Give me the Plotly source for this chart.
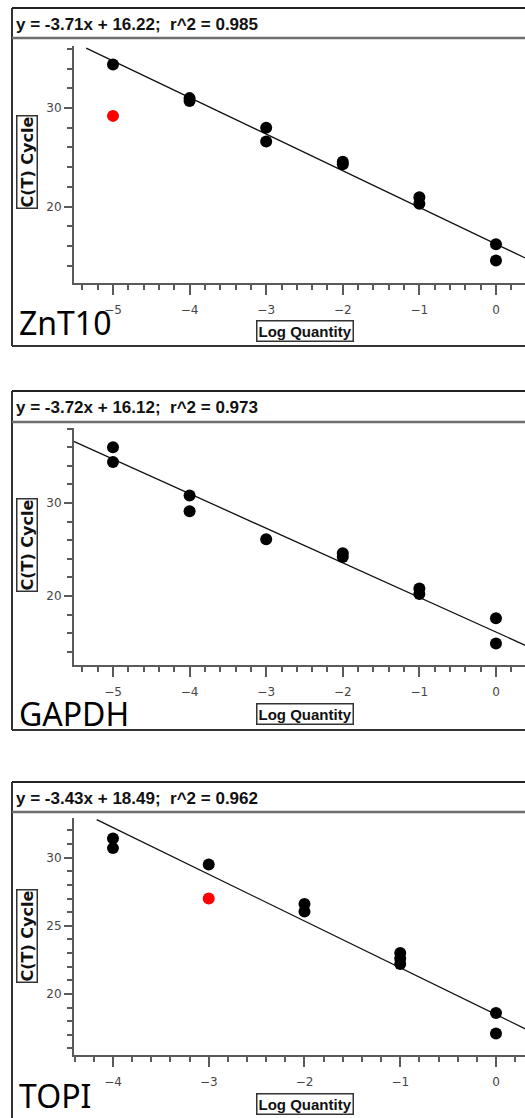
import plotly.graph_objects as go

W, H = 525, 1118

# ---------------- data ----------------
genes = ["ZnT10", "GAPDH", "TOPI"]
slopes = [-3.71, -3.72, -3.43]
intercepts = [16.22, 16.12, 18.49]
r2_values = [0.985, 0.973, 0.962]

znt10_x = [-5, -4, -4, -3, -3, -2, -2, -1, -1, 0, 0]
znt10_y = [34.4, 31.0, 30.7, 28.0, 26.6, 24.55, 24.3, 20.95, 20.3, 16.2, 14.55]
znt10_out_x = [-5]
znt10_out_y = [29.2]

gapdh_x = [-5, -5, -4, -4, -3, -2, -2, -1, -1, 0, 0]
gapdh_y = [36.0, 34.4, 30.8, 29.1, 26.1, 24.6, 24.2, 20.8, 20.2, 17.6, 14.9]
gapdh_out_x = []
gapdh_out_y = []

topi_x = [-4, -4, -3, -2, -2, -1, -1, -1, 0, 0]
topi_y = [31.4, 30.7, 29.5, 26.6, 26.05, 23.0, 22.6, 22.2, 18.6, 17.1]
topi_out_x = [-3]
topi_out_y = [27.0]

fit_x_start = [-5.35, -5.6, -4.17]
fit_x_end = [0.6, 0.6, 0.6]

x_ranges = [[-5.509, 0.379], [-5.509, 0.379], [-4.407, 0.303]]
y_ranges = [[12.32, 36.28], [12.58, 38.06], [15.52, 32.91]]
y_major = [10, 10, 5]
y_minor = [2, 2, 1]

# ---------------- layout geometry (pixels) ----------------
panel_top = [8, 391, 782]
panel_sep = [38, 422, 812]
panel_bottom = [346, 730, None]
plot_top = [46, 428, 818]
plot_bottom = [282.5, 665, 1055]
ylab_center = [162, 545, 936]
gene_y = [322, 713, 1095]
plot_left = 74


def px(x):
    return x / W


def py(y):
    return 1 - y / H


series = [
    (znt10_x, znt10_y, znt10_out_x, znt10_out_y),
    (gapdh_x, gapdh_y, gapdh_out_x, gapdh_out_y),
    (topi_x, topi_y, topi_out_x, topi_out_y),
]

fig = go.Figure()
layout = dict(
    width=W, height=H, margin=dict(l=0, r=0, t=0, b=0),
    paper_bgcolor="white", plot_bgcolor="white", showlegend=False,
    shapes=[], annotations=[],
)

AX = "#5a5a5a"
tickfont = dict(family="DejaVu Sans", size=12, color="#454545")

for i in range(3):
    xa = "x" if i == 0 else f"x{i+1}"
    ya = "y" if i == 0 else f"y{i+1}"
    xs, ys, oxs, oys = series[i]
    fx = [fit_x_start[i], fit_x_end[i]]
    fy = [slopes[i] * v + intercepts[i] for v in fx]
    fig.add_trace(go.Scatter(x=fx, y=fy, mode="lines", xaxis=xa, yaxis=ya,
                             line=dict(color="#111111", width=1.3), hoverinfo="skip"))
    fig.add_trace(go.Scatter(x=xs, y=ys, mode="markers", xaxis=xa, yaxis=ya,
                             marker=dict(color="black", size=12)))
    if oxs:
        fig.add_trace(go.Scatter(x=oxs, y=oys, mode="markers", xaxis=xa, yaxis=ya,
                                 marker=dict(color="#ff0000", size=12)))

    xkey = "xaxis" if i == 0 else f"xaxis{i+1}"
    ykey = "yaxis" if i == 0 else f"yaxis{i+1}"
    layout[xkey] = dict(
        domain=[px(plot_left), 1], range=x_ranges[i], anchor=ya,
        showline=True, linecolor=AX, linewidth=2, showgrid=False, zeroline=False,
        ticks="outside", ticklen=10, tickwidth=1.5, tickcolor=AX,
        tick0=0, dtick=1, tickfont=tickfont, ticklabelstandoff=5,
        minor=dict(ticks="outside", dtick=0.2, tick0=0, ticklen=5,
                   tickwidth=1.5, tickcolor=AX, showgrid=False),
    )
    layout[ykey] = dict(
        domain=[py(plot_bottom[i]), py(plot_top[i])], range=y_ranges[i], anchor=xa,
        showline=True, linecolor=AX, linewidth=2, showgrid=False, zeroline=False,
        ticks="outside", ticklen=8, tickwidth=1.5, tickcolor=AX,
        tick0=0, dtick=y_major[i], tickfont=tickfont,
        minor=dict(ticks="outside", dtick=y_minor[i], tick0=0, ticklen=5,
                   tickwidth=1.5, tickcolor=AX, showgrid=False),
    )

    # panel frame
    bottom = panel_bottom[i] if panel_bottom[i] is not None else H + 5
    layout["shapes"] += [
        dict(type="line", xref="paper", yref="paper", x0=px(12), x1=px(12),
             y0=py(panel_top[i]), y1=py(bottom), line=dict(color="#333333", width=2)),
        dict(type="line", xref="paper", yref="paper", x0=px(12), x1=1.01,
             y0=py(panel_top[i]), y1=py(panel_top[i]), line=dict(color="#222222", width=2)),
        dict(type="line", xref="paper", yref="paper", x0=px(12), x1=1.01,
             y0=py(panel_sep[i]), y1=py(panel_sep[i]), line=dict(color="#6e6e6e", width=2.5)),
    ]
    if panel_bottom[i] is not None:
        layout["shapes"].append(
            dict(type="line", xref="paper", yref="paper", x0=px(12), x1=1.01,
                 y0=py(bottom), y1=py(bottom), line=dict(color="#333333", width=2)))

    title = (f"y = {slopes[i]:.2f}x + {intercepts[i]:.2f};\u00a0\u00a0r^2 = {r2_values[i]:.3f}")
    layout["annotations"] += [
        dict(text=title, xref="paper", yref="paper", x=px(14), y=py((panel_top[i] + panel_sep[i]) / 2 + 1),
             xanchor="left", yanchor="middle", showarrow=False,
             font=dict(family="Liberation Sans", size=17, color="#111111", weight="bold")),
        dict(text="C(T)\u00a0Cycle", xref="paper", yref="paper", x=px(27), y=py(ylab_center[i]),
             xanchor="center", yanchor="middle", showarrow=False, textangle=-90,
             bordercolor="#333333", borderwidth=1.5, borderpad=0, bgcolor="white",
             font=dict(family="DejaVu Sans", size=16, color="#111111", weight="bold")),
        dict(text="Log Quantity", xref="paper", yref="paper", x=px(304.5),
             y=py(plot_bottom[i] + 48.5), xanchor="center", yanchor="middle", showarrow=False,
             bordercolor="#333333", borderwidth=1.5, borderpad=1, bgcolor="white",
             font=dict(family="Liberation Sans", size=15, color="#111111", weight="bold")),
        dict(text=genes[i], xref="paper", yref="paper", x=px(17), y=py(gene_y[i]),
             xanchor="left", yanchor="middle", showarrow=False,
             font=dict(family="Noto Sans", size=32, color="black")),
    ]

fig.update_layout(**layout)
fig.write_html("out.html")
